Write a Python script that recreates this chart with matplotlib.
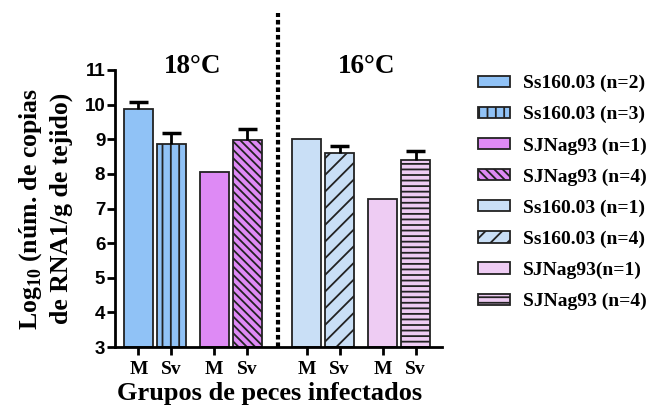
#!/usr/bin/env python3
"""
Viral load (log10 RNA1 copies) per group of infected fish at 18 and 16 C
"""

import matplotlib
matplotlib.use('Agg')
import matplotlib.pyplot as plt

# Data
tick_labels = ['M', 'Sv', 'M', 'Sv', 'M', 'Sv', 'M', 'Sv']
positions = [0, 1, 2.3, 3.3, 5.1, 6.1, 7.4, 8.4]
values = [9.87, 8.86, 8.04, 8.99, 9.02, 8.60, 7.27, 8.40]
errors = [0.22, 0.31, 0.0, 0.31, 0.0, 0.21, 0.0, 0.26]
legend_labels = ['Ss160.03 (n=2)', 'Ss160.03 (n=3)', 'SJNag93 (n=1)', 'SJNag93 (n=4)',
                 'Ss160.03 (n=1)', 'Ss160.03 (n=4)', 'SJNag93(n=1)', 'SJNag93 (n=4)']
colors = ['#90C2F6', '#90C2F6', '#DE8AF5', '#DE8AF5',
          '#C9DFF6', '#C9DFF6', '#EECCF3', '#EECCF3']
hatches = ['', '||', '', '\\\\\\\\', '', '//', '', '---']

serif = 'Liberation Serif'
plt.rcParams['mathtext.fontset'] = 'custom'
plt.rcParams['mathtext.rm'] = 'Liberation Serif:bold'
plt.rcParams['mathtext.bf'] = 'Liberation Serif:bold'
plt.rcParams['hatch.linewidth'] = 1.3

fig = plt.figure(figsize=(6.49, 4.09), dpi=100)
ax = fig.add_axes([115 / 649, 1 - 347 / 409, 327 / 649, 277 / 409])

bars = []
for x, v, c, h, lab in zip(positions, values, colors, hatches, legend_labels):
    b = ax.bar(x, v - 3, bottom=3, width=0.88, color=c, edgecolor='#222222',
               linewidth=1.3, hatch=h, label=lab, zorder=2)
    bars.append(b)

# upper-only error bars
for x, v, e in zip(positions, values, errors):
    if e > 0:
        ax.vlines(x, v, v + e, color='black', linewidth=2, zorder=3)
        ax.hlines(v + e, x - 0.28, x + 0.28, color='black', linewidth=2.5, zorder=3)

# dotted separator between temperatures
ax.plot([4.23, 4.23], [3, 12.65], color='black', linewidth=3,
        linestyle=(0, (1.1, 0.7)), clip_on=False, zorder=1)

ax.set_xlim(-0.71, 9.2)
ax.set_ylim(3, 11)
ax.set_yticks(range(3, 12))
ax.set_xticks(positions)
ax.set_xticklabels(tick_labels, fontfamily=serif, fontweight='bold', fontsize=14)
for lbl in ax.get_yticklabels():
    lbl.set_fontfamily('Liberation Sans')
    lbl.set_fontweight('bold')
    lbl.set_fontsize(13.5)

for side in ['top', 'right']:
    ax.spines[side].set_visible(False)
for side in ['left', 'bottom']:
    ax.spines[side].set_linewidth(2)
ax.tick_params(axis='both', width=2, length=6)
ax.tick_params(axis='x', pad=4)
ax.tick_params(axis='y', pad=1)

ax.text(1.65, 10.92, '18°C', fontfamily=serif, fontweight='bold', fontsize=19.5,
        ha='center', va='baseline')
ax.text(6.92, 10.92, '16°C', fontfamily=serif, fontweight='bold', fontsize=19.5,
        ha='center', va='baseline')

ax.set_ylabel('Log$_{10}$ (núm. de copias\nde RNA1/g de tejido)', fontfamily=serif,
              fontweight='bold', fontsize=18.5, labelpad=8, linespacing=1.35)
ax.set_xlabel('Grupos de peces infectados', fontfamily=serif, fontweight='bold',
              fontsize=19)
ax.xaxis.set_label_coords(0.474, -0.128, transform=ax.transAxes)
ax.xaxis.label.set_va('top')

fig.legend(handles=bars, labels=legend_labels, loc='upper left',
           bbox_to_anchor=(478 / 649, 1 - 75 / 409), frameon=False,
           prop={'family': serif, 'weight': 'bold', 'size': 14},
           handlelength=1.65, handleheight=0.52, handletextpad=0.67,
           labelspacing=0.71, borderpad=0, borderaxespad=0)

plt.savefig('out.png', dpi=100)
plt.close()
